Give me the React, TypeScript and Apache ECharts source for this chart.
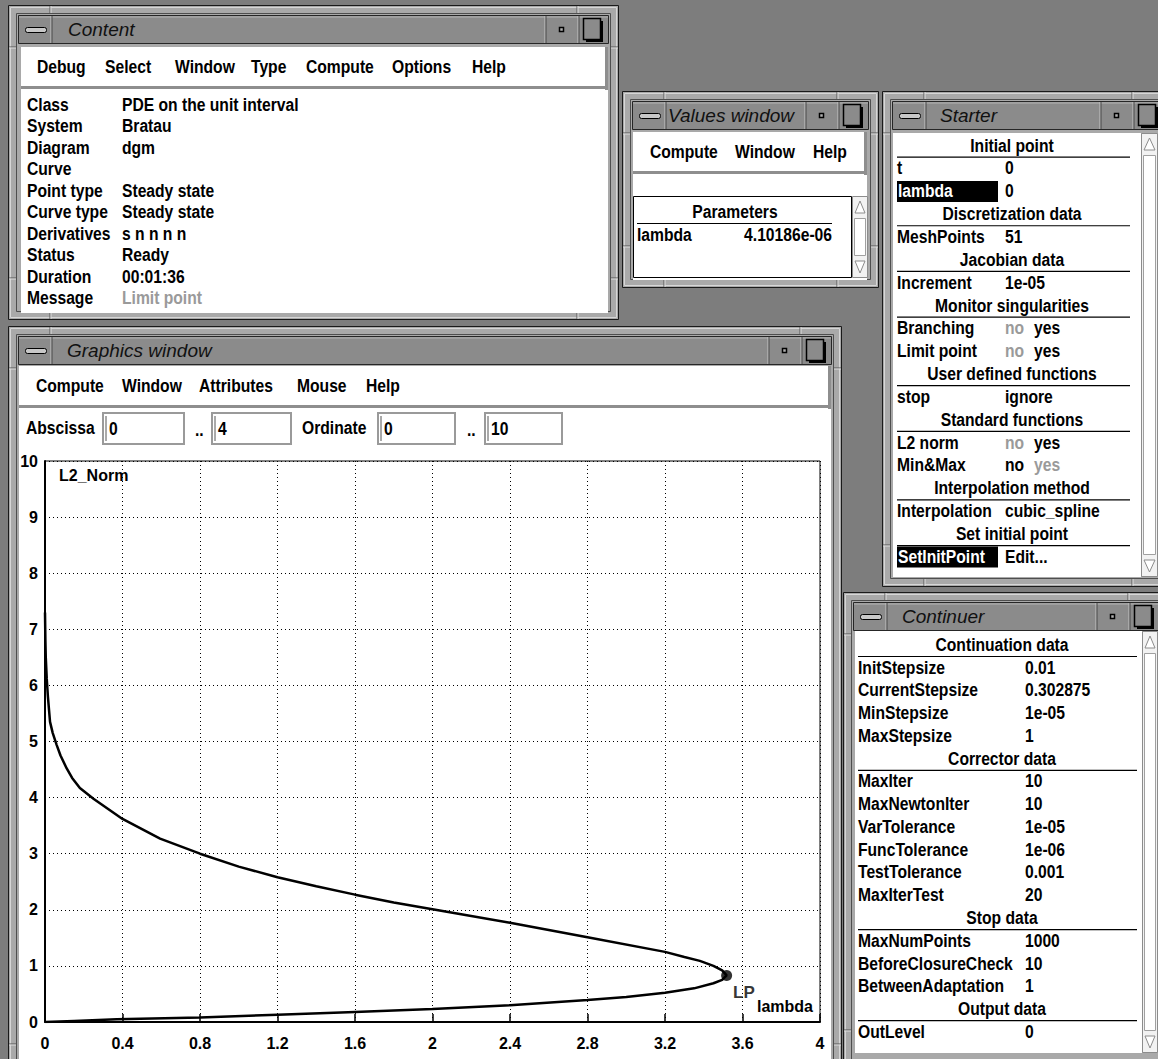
import React, { useEffect, useRef } from 'react';
import * as echarts from 'echarts';

// ---------------- DATA ----------------
const curveLambda = [0, 0.15, 0.37, 0.8, 1.2, 1.6, 2.0, 2.4, 2.8, 3.0, 3.2, 3.35, 3.45, 3.495, 3.518, 3.495, 3.45, 3.38, 3.3, 3.2, 2.8, 2.4, 2.0, 1.8, 1.6, 1.4, 1.2, 1.0, 0.8, 0.594, 0.4, 0.25, 0.18, 0.14, 0.112, 0.08, 0.06, 0.04, 0.026, 0.015, 0.009, 0.004, 0.002, 0.0];
const curveNorm = [0, 0.02, 0.05, 0.08, 0.13, 0.18, 0.23, 0.3, 0.39, 0.445, 0.52, 0.6, 0.69, 0.75, 0.83, 0.92, 1.0, 1.09, 1.16, 1.25, 1.51, 1.77, 2.01, 2.13, 2.27, 2.42, 2.58, 2.77, 3.0, 3.27, 3.62, 3.98, 4.17, 4.35, 4.52, 4.75, 4.94, 5.15, 5.35, 5.8, 6.12, 6.5, 6.8, 7.3];
const lpPoint = [3.518, 0.83];

const contentMenu = ['Debug', 'Select', 'Window', 'Type', 'Compute', 'Options', 'Help'];
const contentLabels = ['Class', 'System', 'Diagram', 'Curve', 'Point type', 'Curve type', 'Derivatives', 'Status', 'Duration', 'Message'];
const contentValues = ['PDE on the unit interval', 'Bratau', 'dgm', '', 'Steady state', 'Steady state', 's n n n n', 'Ready', '00:01:36', 'Limit point'];

const valuesMenu = ['Compute', 'Window', 'Help'];
const paramNames = ['lambda'];
const paramValues = ['4.10186e-06'];

// kind, label, value, value2
const starterRows: string[][] = [
  ['h', 'Initial point'],
  ['r', 't', '0'],
  ['sel', 'lambda', '0'],
  ['h', 'Discretization data'],
  ['r', 'MeshPoints', '51'],
  ['h', 'Jacobian data'],
  ['r', 'Increment', '1e-05'],
  ['h', 'Monitor singularities'],
  ['g1', 'Branching', 'no', 'yes'],
  ['g1', 'Limit point', 'no', 'yes'],
  ['h', 'User defined functions'],
  ['r', 'stop', 'ignore'],
  ['h', 'Standard functions'],
  ['g1', 'L2 norm', 'no', 'yes'],
  ['g2', 'Min&Max', 'no', 'yes'],
  ['h', 'Interpolation method'],
  ['r', 'Interpolation', 'cubic_spline'],
  ['h', 'Set initial point'],
  ['sel', 'SetInitPoint', 'Edit...'],
];

const continuerRows: string[][] = [
  ['h', 'Continuation data'],
  ['r', 'InitStepsize', '0.01'],
  ['r', 'CurrentStepsize', '0.302875'],
  ['r', 'MinStepsize', '1e-05'],
  ['r', 'MaxStepsize', '1'],
  ['h', 'Corrector data'],
  ['r', 'MaxIter', '10'],
  ['r', 'MaxNewtonIter', '10'],
  ['r', 'VarTolerance', '1e-05'],
  ['r', 'FuncTolerance', '1e-06'],
  ['r', 'TestTolerance', '0.001'],
  ['r', 'MaxIterTest', '20'],
  ['h', 'Stop data'],
  ['r', 'MaxNumPoints', '1000'],
  ['r', 'BeforeClosureCheck', '10'],
  ['r', 'BetweenAdaptation', '1'],
  ['h', 'Output data'],
  ['r', 'OutLevel', '0'],
];

const graphicsMenu = ['Compute', 'Window', 'Attributes', 'Mouse', 'Help'];
const abscissaRange = ['0', '4'];
const ordinateRange = ['0', '10'];
const xAxisName = 'lambda';
const yAxisName = 'L2_Norm';

// ---------------- STYLE ----------------
const SANS = '"Liberation Sans", Arial, Helvetica, sans-serif';
const F = `bold 18px ${SANS}`;
const SX = 0.87;
const TITLEF = `italic 19px ${SANS}`;
const GREY = '#9a9a9a';

function buildGraphics() {
  const els: any[] = [];
  const rect = (x: number, y: number, w: number, h: number, fill: any, stroke?: any, lw = 1, r = 0) =>
    els.push({ type: 'rect', z: 1, silent: true, shape: { x, y, width: w, height: h, r }, style: { fill: fill || 'none', stroke: stroke || 'none', lineWidth: lw } });
  const line = (x1: number, y1: number, x2: number, y2: number, stroke: string, lw = 1) =>
    els.push({ type: 'line', z: 1, silent: true, shape: { x1, y1, x2, y2 }, style: { stroke, lineWidth: lw } });
  const poly = (pts: number[][], fill: string, stroke: string) =>
    els.push({ type: 'polygon', z: 1, silent: true, shape: { points: pts }, style: { fill, stroke, lineWidth: 1 } });
  const text = (x: number, y: number, t: string, opt: any = {}) =>
    els.push({ type: 'text', z: 1, silent: true, x, y, scaleX: opt.sx ?? SX, style: { text: t, font: opt.font || F, fill: opt.fill || '#000', textAlign: opt.align || 'left', textVerticalAlign: 'middle' } });

  // desktop
  rect(0, 0, 1158, 1059, '#7d7d7d');

  const frame = (x: number, y: number, w: number, h: number, title: string, titleX: number) => {
    const R = x + w;
    rect(x + 0.5, y + 0.5, w - 1, h - 1, '#a9a9a9', '#1a1a1a', 1);
    rect(x + 2.5, y + 2.5, w - 5, h - 5, null, '#d6d6d6', 1);
    rect(x + 8.5, y + 8.5, w - 17, h - 17, null, '#4e4e4e', 1);
    // corner handles
    [x + 42, R - 42].forEach((cx) => { line(cx, y + 1, cx, y + 8, '#555'); line(cx + 1, y + 1, cx + 1, y + 8, '#ddd'); line(cx, y + h - 8, cx, y + h - 1, '#555'); line(cx + 1, y + h - 8, cx + 1, y + h - 1, '#ddd'); });
    [y + 42, y + h - 42].forEach((cy) => { line(x + 1, cy, x + 8, cy, '#555'); line(x + 1, cy + 1, x + 8, cy + 1, '#ddd'); line(R - 8, cy, R - 1, cy, '#555'); line(R - 8, cy + 1, R - 1, cy + 1, '#ddd'); });
    // title bar
    rect(x + 10.5, y + 10.5, w - 21, 28, '#8b8b8b', '#262626', 1);
    line(x + 11, y + 12, R - 11, y + 12, '#b4b4b4');
    line(x + 43, y + 11, x + 43, y + 38, '#c4c4c4');
    line(x + 44, y + 11, x + 44, y + 38, '#4a4a4a');
    rect(x + 17.5, y + 22.5, 21, 5, '#c8c8c8', '#000', 1, 2);
    [R - 74, R - 41].forEach((sx) => { line(sx, y + 11, sx, y + 38, '#c4c4c4'); line(sx + 1, y + 11, sx + 1, y + 38, '#4a4a4a'); });
    rect(R - 59.5, y + 22.5, 4, 4, '#b0b0b0', '#000', 1.5);
    rect(R - 33, y + 16, 17, 21, '#000');
    rect(R - 35.5, y + 13.5, 17, 21, '#8b8b8b', '#000', 1.5);
    text(titleX, y + 24.5, title, { font: TITLEF, fill: '#111', sx: 1 });
  };

  const menuBar = (x1: number, y1: number, x2: number, items: string[], xs: number[]) => {
    rect(x1, y1, x2 - x1, 43, '#fff');
    rect(x2 - 3, y1, 3, 43, '#8e8e8e');
    rect(x1, y1 + 39, x2 - x1, 3, '#8e8e8e');
    items.forEach((t, i) => text(xs[i], y1 + 20, t));
  };

  const scrollbar = (x: number, y: number, w: number, h: number) => {
    rect(x + 0.5, y + 0.5, w - 1, h - 1, '#f2f2f2', '#8c8c8c', 1);
    rect(x + 2.5, y + 22.5, w - 5, h - 45, '#ffffff', '#a0a0a0', 1);
    poly([[x + w / 2, y + 5], [x + 3, y + 17], [x + w - 3, y + 17]], '#fff', '#8c8c8c');
    poly([[x + w / 2, y + h - 5], [x + 3, y + h - 17], [x + w - 3, y + h - 17]], '#fff', '#8c8c8c');
  };

  // ---------- Content window ----------
  frame(8, 5, 611, 315, 'Content', 68);
  rect(21, 47, 587, 266, '#fff');
  menuBar(21, 47, 608, contentMenu, [37, 105, 175, 251, 306, 392, 472]);
  contentLabels.forEach((l, i) => {
    const y = 105 + i * 21.5;
    text(27, y, l);
    if (contentValues[i]) text(122, y, contentValues[i], { fill: l === 'Message' ? GREY : '#000' });
  });

  // ---------- Values window ----------
  frame(622, 91, 257, 197, 'Values window', 668);
  rect(633, 132, 234, 148, '#fff');
  menuBar(633, 132, 867, valuesMenu, [650, 735, 813]);
  rect(633.5, 196.5, 218, 81, '#fff', '#000', 1);
  scrollbar(852, 196, 16, 82);
  text(735, 212, 'Parameters', { align: 'center' });
  line(637, 223.5, 832, 223.5, '#000', 1.2);
  paramNames.forEach((n, i) => {
    text(637, 235 + i * 22, n);
    text(832, 235 + i * 22, paramValues[i], { align: 'right' });
  });

  // ---------- Starter window ----------
  frame(882, 91, 292, 496, 'Starter', 940);
  rect(893, 133, 248, 444, '#fff');
  scrollbar(1141, 133, 17, 444);
  starterRows.forEach((r, i) => {
    const y = 145.7 + i * 22.85;
    if (r[0] === 'h') {
      text(1012, y, r[1], { align: 'center' });
      line(897, y + 11.5, 1130, y + 11.5, '#000', 1.2);
      return;
    }
    if (r[0] === 'sel') {
      rect(897, y - 10.5, 101, 21, '#000');
      text(898, y, r[1], { fill: '#fff' });
    } else {
      text(897, y, r[1]);
    }
    if (r[0] === 'g1') {
      text(1005, y, r[2], { fill: GREY });
      text(1034, y, r[3]);
    } else if (r[0] === 'g2') {
      text(1005, y, r[2]);
      text(1034, y, r[3], { fill: GREY });
    } else {
      text(1005, y, r[2]);
    }
  });

  // ---------- Graphics window ----------
  frame(8, 326, 834, 760, 'Graphics window', 67);
  rect(19, 366, 812, 700, '#fff');
  menuBar(19, 366, 831, graphicsMenu, [36, 122, 199, 297, 366]);
  text(26, 428, 'Abscissa');
  text(195, 430, '..');
  text(302, 428, 'Ordinate');
  text(467, 430, '..');
  const boxes = [[102, 83, abscissaRange[0]], [211, 81, abscissaRange[1]], [377, 79, ordinateRange[0]], [484, 79, ordinateRange[1]]];
  boxes.forEach((b: any) => {
    rect(b[0] + 1, 413, b[1] - 2, 31, '#fff', '#9a9a9a', 2);
    line(b[0] + 4, 416, b[0] + 4, 441, '#555', 1);
    text(b[0] + 7, 429, b[2]);
  });

  // ---------- Continuer window ----------
  frame(843, 592, 327, 480, 'Continuer', 902);
  rect(855, 631, 287, 422, '#fff');
  scrollbar(1142, 631, 16, 422);
  continuerRows.forEach((r, i) => {
    const y = 645 + i * 22.76;
    if (r[0] === 'h') {
      text(1002, y, r[1], { align: 'center' });
      line(858, y + 11.5, 1137, y + 11.5, '#000', 1.2);
    } else {
      text(858, y, r[1]);
      text(1025, y, r[2]);
    }
  });

  return els;
}

export default function App() {
  const ref = useRef<HTMLDivElement>(null);
  useEffect(() => {
    document.body.style.margin = '0';
    const chart = echarts.init(ref.current!, null, { renderer: 'svg' });
    const axisFont = { fontFamily: SANS, fontWeight: 'bold' as const, fontSize: 16, color: '#000' };
    chart.setOption({
      animation: false,
      graphic: { elements: buildGraphics() },
      grid: { left: 45, top: 461, width: 775, height: 561, show: true, borderColor: '#000', borderWidth: 1, backgroundColor: 'transparent', z: 5, containLabel: false, outerBoundsMode: 'none' },
      xAxis: {
        type: 'value', min: 0, max: 4, interval: 0.4, z: 10,
        name: xAxisName, nameLocation: 'end', nameGap: -63,
        nameTextStyle: { ...axisFont, align: 'left', verticalAlign: 'bottom', padding: [0, 0, 8, 0] },
        axisLine: { show: true, lineStyle: { color: '#000', width: 2 } },
        axisTick: { show: true, inside: true, length: 8, lineStyle: { color: '#000', width: 1.5 } },
        axisLabel: { ...axisFont, margin: 13, formatter: (v: number) => String(+v.toFixed(1)) },
        splitLine: { show: true, lineStyle: { color: '#000', width: 1, type: [1, 3] } },
      },
      yAxis: {
        type: 'value', min: 0, max: 10, interval: 1, z: 10,
        name: yAxisName, nameLocation: 'end', nameGap: -14,
        nameTextStyle: { ...axisFont, align: 'left', verticalAlign: 'middle', padding: [0, 0, 0, 14] },
        axisLine: { show: true, lineStyle: { color: '#000', width: 2 } },
        axisTick: { show: false },
        axisLabel: { ...axisFont, margin: 7 },
        splitLine: { show: true, lineStyle: { color: '#000', width: 1, type: [1, 3] } },
      },
      series: [
        {
          type: 'line', z: 12, silent: true, showSymbol: false, symbol: 'none',
          data: curveLambda.map((l, i) => [l, curveNorm[i]]),
          lineStyle: { color: '#000', width: 2.5 },
        },
        {
          type: 'scatter', z: 13, silent: true, symbolSize: 11,
          data: [lpPoint],
          itemStyle: { color: '#000' },
          label: { show: true, formatter: 'LP', position: 'right', offset: [-4, 17], ...axisFont, fontSize: 17 },
        },
      ],
    });
    return () => chart.dispose();
  }, []);
  return <div ref={ref} style={{ position: 'absolute', left: 0, top: 0, width: 1158, height: 1059 }} />;
}
